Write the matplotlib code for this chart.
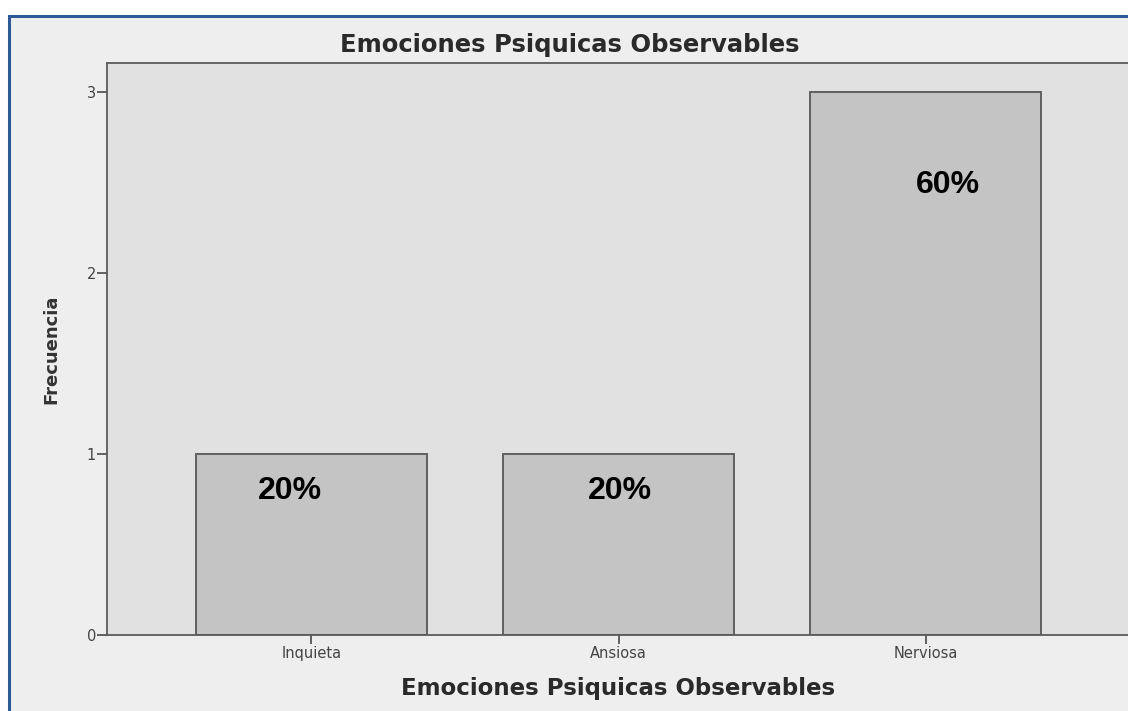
import matplotlib.pyplot as plt
from matplotlib.patches import Rectangle

# data
categories = ["Inquieta", "Ansiosa", "Nerviosa"]
frequencies = [1, 1, 3]
percent_labels = ["20%", "20%", "60%"]

title = "Emociones Psiquicas Observables"

W, H = 1128, 711
fig = plt.figure(figsize=(W / 100, H / 100), dpi=100, facecolor="white")

# light panel with the blue frame (runs off the right and bottom edges)
frame = Rectangle(
    (8.5 / W, -0.1), 1.2, 1.1 - 15.5 / H,
    transform=fig.transFigure, facecolor="#eeeeee", edgecolor="#2d5a94",
    linewidth=2.2, zorder=-10,
)
fig.patches.append(frame)

ax = fig.add_axes([107 / W, 76 / H, 1023 / W, 572 / H])
ax.set_zorder(5)
ax.set_facecolor("#e1e1e1")

x = list(range(len(categories)))
ax.bar(x, frequencies, width=0.752, color="#c4c4c4", edgecolor="#606060", linewidth=1.4, zorder=2)

# percentage labels, nudged the way they sit in the original
dx = [-0.07, 0.005, 0.072]
dy = [-0.204, -0.204, -0.514]
for i, lab in enumerate(percent_labels):
    ax.text(x[i] + dx[i], frequencies[i] + dy[i], lab, ha="center", va="center",
            fontsize=23, fontweight="bold", family="Liberation Sans", color="black", zorder=3)

ax.set_xlim(-0.666, 2.666)
ax.set_ylim(0, 3.16)
ax.set_xticks(x)
ax.set_xticklabels(categories)
ax.set_yticks([0, 1, 2, 3])

for s in ax.spines.values():
    s.set_color("#5a5a5a")
    s.set_linewidth(1.3)

ax.tick_params(axis="y", length=7, width=1.3, color="#555555", labelsize=10.5, labelcolor="#444444", pad=1)
ax.tick_params(axis="x", length=6.5, width=1.3, color="#555555", labelsize=10.5, labelcolor="#444444", pad=1.5)

ax.set_xlabel(title, fontsize=16.5, fontweight="bold", color="#2a2a2a", va="center")
ax.xaxis.set_label_coords(0.5, (635 - 689) / 572)
ax.set_ylabel("Frecuencia", fontsize=13, fontweight="bold", color="#333333", va="center", ha="center")
ax.yaxis.set_label_coords((51 - 107) / 1023, 0.5)

fig.text(570 / W, 1 - 45 / H, title, ha="center", va="center",
         fontsize=17.5, fontweight="bold", color="#2a2a2a")

fig.savefig("out.png", dpi=100, facecolor=fig.get_facecolor())
